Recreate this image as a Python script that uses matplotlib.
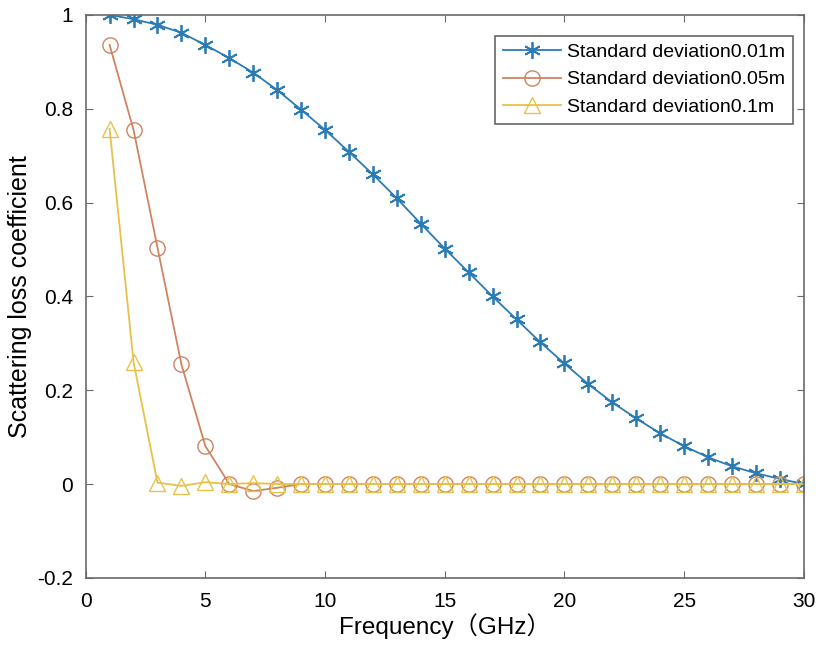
import matplotlib
matplotlib.use('Agg')
from matplotlib import pyplot as plt
import numpy as np

freq = list(range(1, 31))

sd_001 = [1.000, 0.991, 0.979, 0.962, 0.936, 0.908, 0.877, 0.840, 0.798, 0.755,
          0.708, 0.660, 0.609, 0.555, 0.502, 0.451, 0.400, 0.351, 0.302, 0.257,
          0.213, 0.174, 0.140, 0.108, 0.081, 0.057, 0.038, 0.023, 0.011, 0.000]
sd_005 = [0.936, 0.755, 0.504, 0.255, 0.081, 0.000, -0.015, -0.008, 0.000, 0.000,
          0.000, 0.000, 0.000, 0.000, 0.000, 0.000, 0.000, 0.000, 0.000, 0.000,
          0.000, 0.000, 0.000, 0.000, 0.000, 0.000, 0.000, 0.000, 0.000, 0.000]
sd_01 = [0.757, 0.260, 0.003, -0.004, 0.004, 0.000, 0.002, 0.000, 0.000, 0.000,
         0.000, 0.000, 0.000, 0.000, 0.000, 0.000, 0.000, 0.000, 0.000, 0.000,
         0.000, 0.000, 0.000, 0.000, 0.000, 0.000, 0.000, 0.000, 0.000, 0.000]

labels = ['Standard deviation0.01m', 'Standard deviation0.05m', 'Standard deviation0.1m']
colors = ['#2b7bb5', '#cf8360', '#e6c24a']
axis_color = '#6a6a6a'

plt.rcParams['font.family'] = ['Liberation Sans', 'Noto Sans CJK SC', 'DejaVu Sans']

fig = plt.figure(figsize=(8.16, 6.5), dpi=100)
ax = fig.add_axes([0.105, 0.111, 0.880, 0.866])

# matlab style asterisk: 6 spokes, one vertical
ax.plot(freq, sd_001, color=colors[0], marker=(6, 2, 0), markersize=12,
        markeredgewidth=1.3, linewidth=1.3, label=labels[0])
ax.plot(freq, sd_005, color=colors[1], marker='o', markersize=11,
        markerfacecolor='none', linewidth=1.3, label=labels[1])
ax.plot(freq, sd_01, color=colors[2], marker='^', markersize=11,
        markerfacecolor='none', linewidth=1.3, label=labels[2])

ax.set_xlim(0, 30)
ax.set_ylim(-0.2, 1.0)
ax.set_xticks(range(0, 31, 5))
ax.set_yticks([-0.2, 0, 0.2, 0.4, 0.6, 0.8, 1])
ax.set_yticklabels(['-0.2', '0', '0.2', '0.4', '0.6', '0.8', '1'])

for spine in ax.spines.values():
    spine.set_color(axis_color)
    spine.set_linewidth(1.2)
ax.tick_params(direction='in', top=True, right=True, length=5,
               color=axis_color, labelsize=15)
ax.tick_params(axis='x', pad=10)
ax.tick_params(axis='y', pad=9)

ax.set_xlabel('Frequency（GHz）', fontsize=17.5, labelpad=2)
ax.set_ylabel('Scattering loss coefficient', fontsize=18, labelpad=4)

leg = ax.legend(loc='upper right', fontsize=14, frameon=True, fancybox=False,
                edgecolor='#404040', borderpad=0.4, handlelength=3.0,
                handletextpad=0.3, labelspacing=0.5, borderaxespad=0,
                bbox_to_anchor=(0.985, 0.963))
leg.get_frame().set_linewidth(1.2)

fig.savefig('out.png', dpi=100)
